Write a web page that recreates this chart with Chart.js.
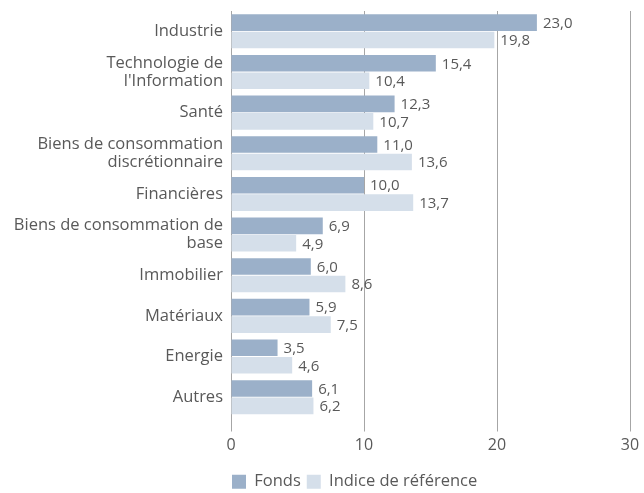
<!DOCTYPE html>
<html>
<head>
<meta charset="utf-8">
<script src="https://cdn.jsdelivr.net/npm/chart.js@4.4.1/dist/chart.umd.min.js"></script>
<style>
  body { margin: 0; background: #fff; }
  #wrap { width: 644px; height: 493px; }
</style>
</head>
<body>
<div id="wrap"><canvas id="sectorChart" width="644" height="493"></canvas></div>
<script>
// sectors, top to bottom
const sectors = [
    'Industrie',
    ['Technologie de', "l'Information"],
    'Santé',
    ['Biens de consommation', 'discrétionnaire'],
    'Financières',
    ['Biens de consommation de', 'base'],
    'Immobilier',
    'Matériaux',
    'Energie',
    'Autres',
];
const fondsValues = [23.0, 15.4, 12.3, 11.0, 10.0, 6.9, 6.0, 5.9, 3.5, 6.1];
const indiceValues = [19.8, 10.4, 10.7, 13.6, 13.7, 4.9, 8.6, 7.5, 4.6, 6.2];
const xTicks = [0, 10, 20, 30];

const TEXT = '#595959';
const FONT = "'Open Sans', sans-serif";

// value labels at the end of each bar, comma decimal
const valueLabels = {
    id: 'valueLabels',
    afterDatasetsDraw(chart) {
        const ctx = chart.ctx;
        ctx.save();
        ctx.font = '15px ' + FONT;
        ctx.fillStyle = TEXT;
        ctx.textAlign = 'left';
        ctx.textBaseline = 'middle';
        chart.data.datasets.forEach((ds, i) => {
            chart.getDatasetMeta(i).data.forEach((bar, j) => {
                ctx.fillText(ds.data[j].toFixed(1).replace('.', ','), bar.x + 6, bar.y + 1);
            });
        });
        ctx.restore();
    },
};

// legend starts at the axis line and sits a bit lower
const legendToAxis = {
    id: 'legendToAxis',
    afterLayout(chart) {
        const lg = chart.legend;
        if (lg) {
            lg.left = chart.chartArea.left - 5;
            lg.top += 7;
            lg.bottom += 7;
        }
    },
};

const config = {
    type: 'bar',
    data: {
        labels: sectors,
        datasets: [
            {
                label: 'Fonds',
                data: fondsValues,
                backgroundColor: '#9bb0c9',
                categoryPercentage: 0.86,
                barPercentage: 0.95,
            },
            {
                label: 'Indice de référence',
                data: indiceValues,
                backgroundColor: '#d5dfea',
                categoryPercentage: 0.86,
                barPercentage: 0.95,
            },
        ],
    },
    options: {
        indexAxis: 'y',
        responsive: false,
        animation: { duration: 0 },
        layout: {
            padding: { top: 11, right: 14, bottom: 0, left: 0 },
        },
        plugins: {
            tooltip: { enabled: false },
            legend: {
                position: 'bottom',
                align: 'start',
                labels: {
                    boxWidth: 14,
                    boxHeight: 14,
                    padding: 6,
                    color: TEXT,
                    font: { family: FONT, size: 16.5 },
                },
            },
        },
        scales: {
            x: {
                min: 0,
                max: 30,
                afterBuildTicks(axis) {
                    axis.ticks = xTicks.map(v => ({ value: v }));
                },
                afterFit(axis) {
                    axis.height = 43;
                },
                grid: {
                    color: '#a6a6a6',
                    lineWidth: 1,
                    drawTicks: true,
                    tickLength: 14,
                    tickColor: '#a6a6a6',
                },
                border: { display: false },
                ticks: {
                    color: TEXT,
                    padding: 4,
                    font: { family: FONT, size: 16 },
                },
            },
            y: {
                afterFit(axis) {
                    axis.width = 231;
                    axis.paddingTop = 0;
                    axis.paddingBottom = 0;
                },
                grid: { display: false, drawTicks: false },
                border: { display: true, color: '#a6a6a6', width: 1 },
                ticks: {
                    color: TEXT,
                    padding: 8,
                    font: { family: FONT, size: 16.5, lineHeight: 1.1 },
                },
            },
        },
    },
    plugins: [valueLabels, legendToAxis],
};

const sectorChart = new Chart(document.getElementById('sectorChart'), config);
</script>
</body>
</html>
